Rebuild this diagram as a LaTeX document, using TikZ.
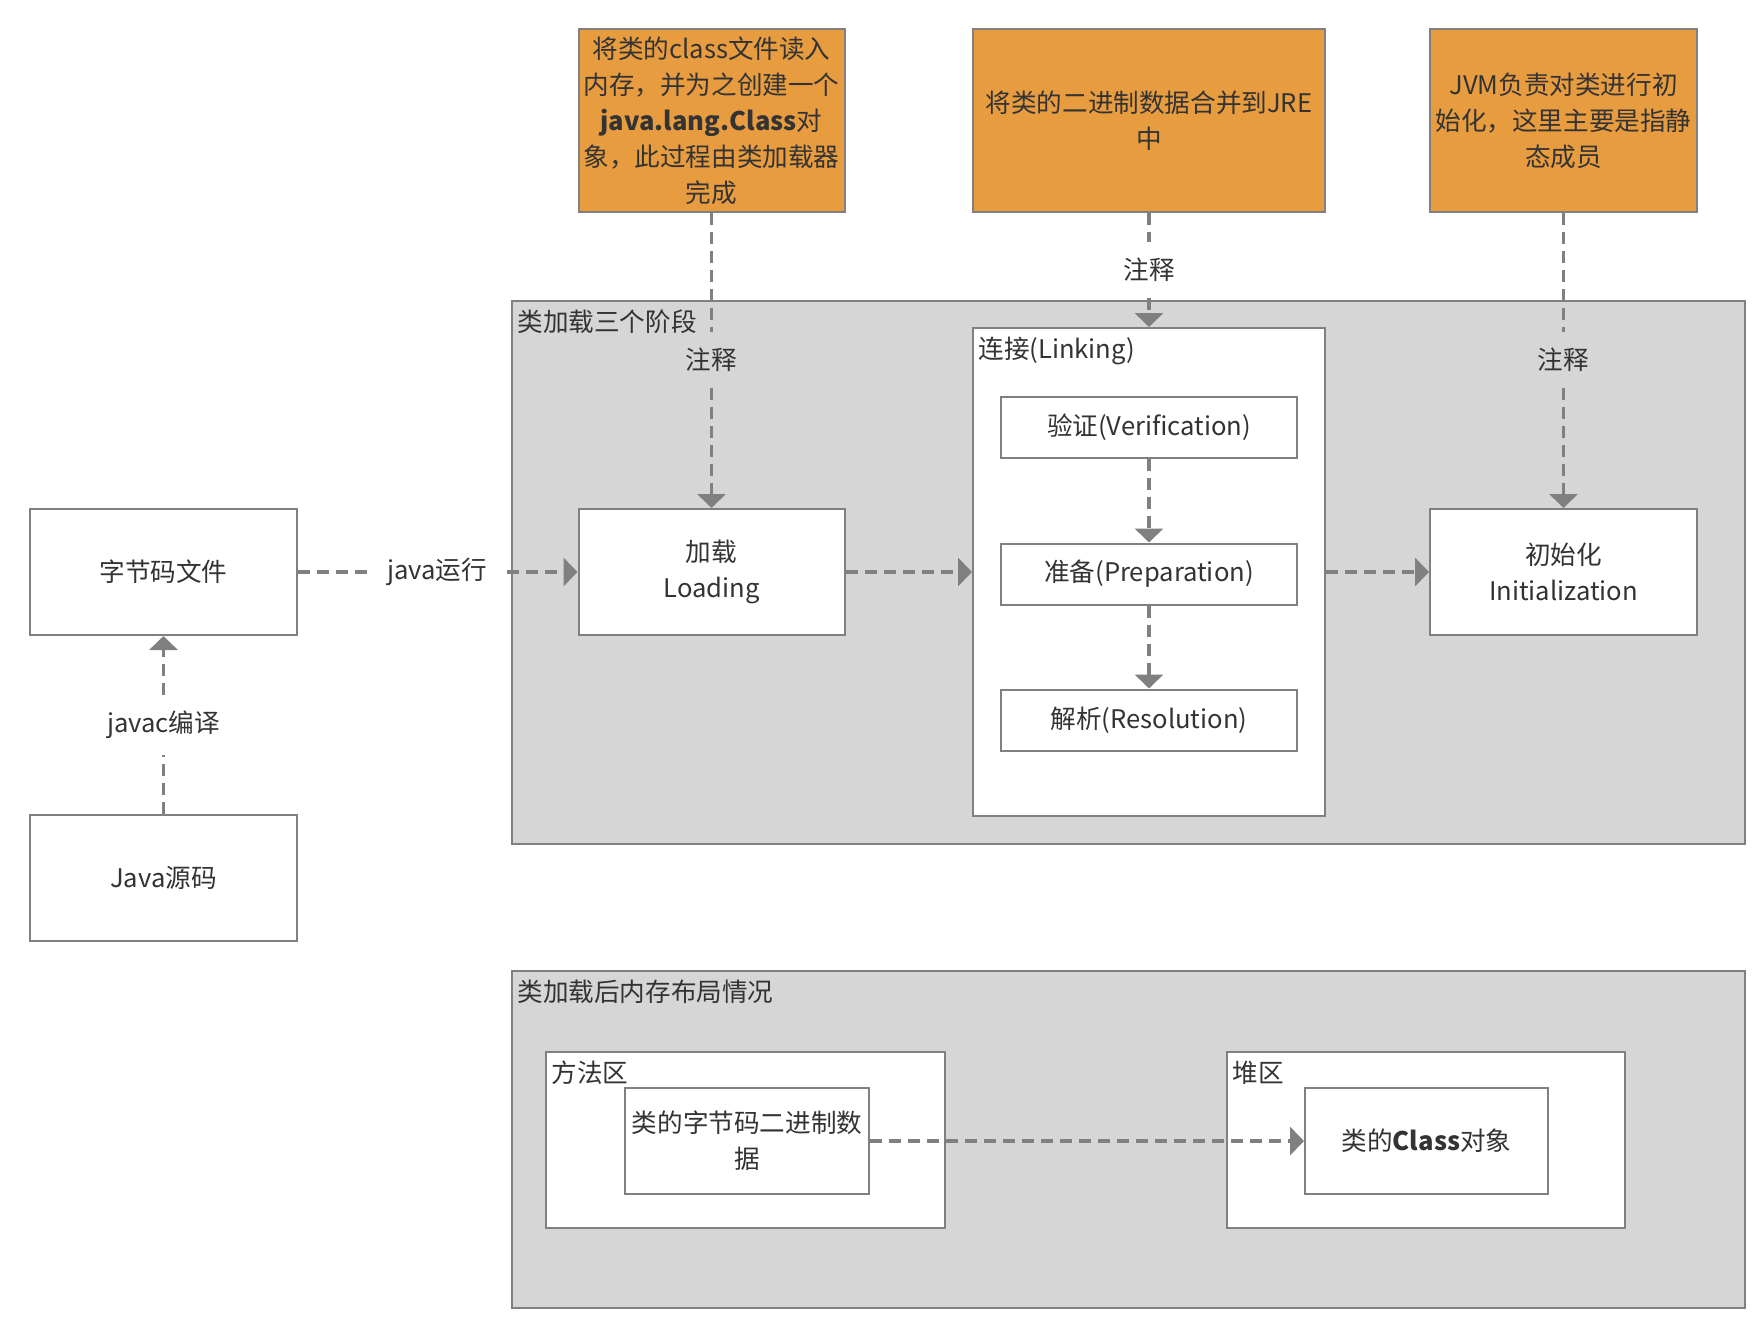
\documentclass[tikz,border=0pt]{standalone}
\usepackage{fontspec}
\setmainfont{Noto Sans CJK SC}
\usetikzlibrary{arrows.meta}

\definecolor{linegray}{HTML}{808080}
\definecolor{fillgray}{HTML}{D6D6D6}
\definecolor{noteorange}{HTML}{E89C40}
\definecolor{txtgray}{HTML}{333333}

\tikzset{
  box/.style={draw=linegray, line width=1pt, fill=white, align=center, inner sep=2pt},
  note/.style={box, fill=noteorange},
  group/.style={draw=linegray, line width=1pt, fill=fillgray},
  grouplabel/.style={anchor=north west, inner sep=3pt, yshift=-1.7pt},
  tag/.style={inner xsep=10pt, inner ysep=8pt},
  flowplain/.style={draw=linegray, line width=1.7pt, dash pattern=on 6pt off 3.5pt},
  flow/.style={flowplain, -{Triangle[width=14pt,length=7pt]}}
}

\begin{document}
\begin{tikzpicture}[x=0.5pt, y=-0.5pt, font=\fontsize{12.8}{18}\selectfont, text=txtgray]

  \useasboundingbox (0,0) rectangle (1762,1330);

  % --- Notes on top ---
  \node[note, minimum width=133pt, minimum height=91.5pt] (noteload) at (711.5,120.5)
    {将类的class文件读入\\内存，并为之创建一个\\\textbf{java.lang.Class}对\\象，此过程由类加载器\\完成};
  \node[note, minimum width=176pt, minimum height=91.5pt] (notelink) at (1149,120.5)
    {将类的二进制数据合并到JRE\\中};
  \node[note, minimum width=133.5pt, minimum height=91.5pt] (noteinit) at (1563.5,120.5)
    {JVM负责对类进行初\\始化，这里主要是指静\\态成员};

  % --- Three stages of class loading ---
  \node[group, minimum width=616.5pt, minimum height=271.5pt] (stages) at (1128.5,572.5) {};
  \node[grouplabel] at (stages.north west) {类加载三个阶段};

  \node[box, minimum width=133pt, minimum height=63pt] (load) at (711.5,572) {加载\\Loading};

  \node[box, minimum width=176pt, minimum height=244pt] (linking) at (1149,572) {};
  \node[grouplabel] at (linking.north west) {连接(Linking)};
  \node[box, minimum width=148pt, minimum height=30.5pt] (verify) at (1149,427.5) {验证(Verification)};
  \node[box, minimum width=148pt, minimum height=30.5pt] (prepare) at (1149,574) {准备(Preparation)};
  \node[box, minimum width=148pt, minimum height=30.5pt] (resolve) at (1149,720) {解析(Resolution)};

  \node[box, minimum width=133.5pt, minimum height=63pt] (init) at (1563.5,572) {初始化\\Initialization};

  % --- Source and bytecode ---
  \node[box, minimum width=133.5pt, minimum height=63pt] (bytecode) at (163.5,572) {字节码文件};
  \node[box, minimum width=133.5pt, minimum height=63pt] (source) at (163.5,878) {Java源码};

  % --- Memory layout after loading ---
  \node[group, minimum width=616.5pt, minimum height=168.5pt] (memory) at (1128.5,1139.5) {};
  \node[grouplabel] at (memory.north west) {类加载后内存布局情况};

  \node[box, minimum width=199.5pt, minimum height=88pt] (method) at (745.5,1140) {};
  \node[grouplabel] at (method.north west) {方法区};
  \node[box, minimum width=122pt, minimum height=53pt] (bindata) at (747,1141) {类的字节码二进制数\\据};

  \node[box, minimum width=199pt, minimum height=88pt] (heap) at (1426,1140) {};
  \node[grouplabel] at (heap.north west) {堆区};
  \node[box, minimum width=121.5pt, minimum height=53pt] (classobj) at (1426.5,1141) {类的\textbf{Class}对象};

  % --- Connector labels ---
  \node[tag] (tagload) at (711.5,360) {注释};
  \node[tag] (taglink) at (1149,270) {注释};
  \node[tag] (taginit) at (1563.5,360) {注释};
  \node[tag] (tagjavac) at (163.5,725) {javac编译};
  \node[tag] (tagjava) at (437,572) {java运行};

  % --- Connectors ---
  \draw[flowplain] (noteload) -- (tagload);
  \draw[flow] (tagload) -- (load);
  \draw[flowplain] (notelink) -- (taglink);
  \draw[flow] (taglink) -- (linking);
  \draw[flowplain] (noteinit) -- (taginit);
  \draw[flow] (taginit) -- (init);

  \draw[flowplain] (source) -- (tagjavac);
  \draw[flow] (tagjavac) -- (bytecode);
  \draw[flowplain] (bytecode) -- (tagjava);
  \draw[flow] (tagjava) -- (load);

  \draw[flow] (load) -- (linking);
  \draw[flow] (linking) -- (init);
  \draw[flow] (verify) -- (prepare);
  \draw[flow] (prepare) -- (resolve);

  \draw[flow] (bindata) -- (classobj);

\end{tikzpicture}
\end{document}
